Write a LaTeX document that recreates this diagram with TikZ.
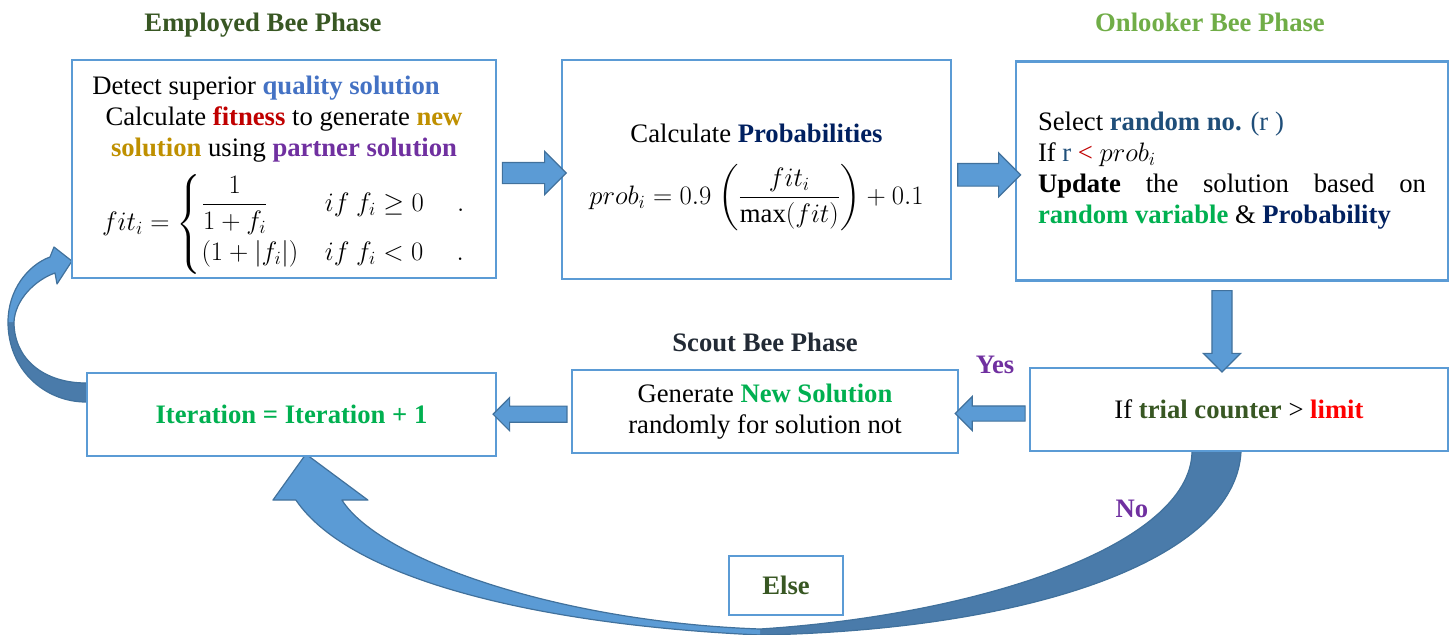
\RequirePackage{fix-cm}
\documentclass[tikz,border=0pt]{standalone}
\usepackage{amsmath}
\usepackage{fontspec}
\setmainfont{Liberation Serif}
\usetikzlibrary{calc,shapes.arrows}
\pgfdeclarelayer{background}
\pgfsetlayers{background,main}

\definecolor{boxblue}{HTML}{5B9BD5}
\definecolor{edgeblue}{HTML}{41719C}
\definecolor{ribbondark}{HTML}{4A7BAA}
\definecolor{phasegreen}{HTML}{385723}
\definecolor{onlookgreen}{HTML}{70AD47}
\definecolor{scoutgray}{HTML}{222A35}
\definecolor{qualblue}{HTML}{4472C4}
\definecolor{fitred}{HTML}{C00000}
\definecolor{newgold}{HTML}{BF9000}
\definecolor{purp}{HTML}{7030A0}
\definecolor{navy}{HTML}{002060}
\definecolor{randblue}{HTML}{1F4E79}
\definecolor{brightgreen}{HTML}{00B050}
\definecolor{limitred}{HTML}{FF0000}

\begin{document}
\begin{tikzpicture}[x=0.75pt,y=-0.75pt,
  every node/.style={font=\fontsize{20}{23.25}\selectfont},
  box/.style={draw=boxblue, line width=1.6pt, fill=white, inner sep=0pt},
  phase/.style={font=\fontsize{20}{23.25}\selectfont\bfseries},
  blockarrow/.style={single arrow, draw=edgeblue, fill=boxblue, line width=0.9pt,
    inner xsep=0pt, anchor=center},
  ribbonedge/.style={draw=edgeblue, line width=0.9pt, line join=round}]

\useasboundingbox (0,0) rectangle (1454,635);

% phase titles
\node[phase, text=phasegreen]  (hEmp) at (263,25)  {Employed Bee Phase};
\node[phase, text=onlookgreen] (hOnl) at (1210,22) {Onlooker Bee Phase};
\node[phase, text=scoutgray]   (hSco) at (765,342) {Scout Bee Phase};

% employed bee phase
\node[box, minimum width=318pt, minimum height=163.5pt] (b1) at (284,169) {};
\node[align=center, inner sep=0pt] (b1txt) at ([yshift=-4.5pt]b1.center)
 {Detect superior \textbf{\color{qualblue}quality solution}\hspace*{27pt}\\
  Calculate \textbf{\color{fitred}fitness} to generate \textbf{\color{newgold}new}\\
  \textbf{\color{newgold}solution} using \textbf{\color{purp}partner solution}\\[8pt]
  $fit_i=\begin{cases}\dfrac{1}{1+f_i} & if\ f_i\ge 0\quad\ .\\
   (1+|f_i|) & if\ f_i<0\quad\ .\end{cases}$};

% probabilities
\node[box, minimum width=291.75pt, minimum height=164.25pt] (b2) at (756.5,169.5) {};
\node[align=center, inner sep=0pt] (b2txt) at ([yshift=-6pt]b2.center)
 {Calculate \textbf{\color{navy}Probabilities}\\[15pt]
  $prob_i=0.9\ \biggl(\dfrac{fit_i}{\max(fit)}\biggr)+0.1$};

% onlooker bee phase
\node[box, minimum width=324pt, minimum height=164.25pt, text width=291pt, align=justify] (b3) at (1232,171)
 {\hyphenpenalty=10000\exhyphenpenalty=10000\tolerance=10000
  Select \textbf{\color{randblue}random no.} {\color{randblue}(r )}\\
  If {\color{randblue}r} {\color{fitred}<} $prob_i$\\
  \textbf{Update} the solution based on \textbf{\color{brightgreen}random variable} \& \textbf{\color{navy}Probability}\par};

% trial counter test
\node[box, minimum width=313.5pt, minimum height=62.25pt] (b5) at (1239,409.5)
 {If \textbf{\color{phasegreen}trial counter} > \textbf{\color{limitred}limit}};

% scout bee phase
\node[box, minimum width=289.5pt, minimum height=62.25pt, align=center] (b4) at (765,411.5)
 {Generate \textbf{\color{brightgreen}New Solution}\\randomly for solution not};

% iteration counter
\node[box, minimum width=306.75pt, minimum height=62.25pt] (b6) at (291.5,414.5)
 {\textbf{\color{brightgreen}Iteration = Iteration + 1}};

% else label box
\node[box, minimum width=85.5pt, minimum height=44.25pt] (else) at (786,585.5)
 {\textbf{\color{phasegreen}Else}};

% branch labels
\node[phase, text=purp] (yes) at (995,365) {Yes};
\node[phase, text=purp] (no)  at (1132,509) {No};

% straight block arrows
\path let \p1=([yshift=-3pt]b1.east), \p2=(b2.west) in
  node[blockarrow, minimum height={\x2-\x1}, inner ysep=7.5pt,
       single arrow head extend=8.25pt] (a1) at ({(\x1+\x2)/2},\y1) {};
\path let \p1=([yshift=-4pt]b2.east), \p2=(b3.west) in
  node[blockarrow, minimum height={\x2-\x1}, inner ysep=8pt,
       single arrow head extend=8pt] (a2) at ({(\x1+\x2)/2},\y1) {};
\path let \p1=([xshift=-7.5pt,yshift=-3pt]b3.south), \p2=(b5.north) in
  node[blockarrow, rotate=-90, minimum height={\y1-\y2}, inner ysep=7.1pt,
       single arrow head extend=6.4pt] (a3) at (\x1,{(\y1+\y2)/2}) {};
\path let \p1=([yshift=-3pt]b5.west), \p2=(b4.east) in
  node[blockarrow, rotate=180, minimum height={\x1-\x2}, inner ysep=5.25pt,
       single arrow head extend=7.1pt] (a4) at ({(\x1+\x2)/2},\y1) {};
\path let \p1=([yshift=-2pt]b4.west), \p2=(b6.east) in
  node[blockarrow, rotate=180, minimum height={\x1-\x2}, inner ysep=5.6pt,
       single arrow head extend=6.4pt] (a5) at ({(\x1+\x2)/2},\y1) {};

% ends of the curved arrows
\coordinate (lA) at ($(b6.west)+(0,-31.5)$);
\coordinate (lB) at ($(b6.west)+(0,-12.5)$);
\coordinate (lT) at ($(b1.south west)+(1,-18)$);
\coordinate (nIn)  at ($(b5.south)+(-47,0)$);
\coordinate (nOut) at ($(b5.south)+(2,0)$);
\coordinate (nTip) at ($(b6.south west)+(220,-3)$);

\begin{pgfonlayer}{background}
  % loop back: iteration to employed bee phase
  \fill[ribbondark] (lA) .. controls (45,383) and (14,360) .. (14,322)
     -- (8,322) .. controls (8,370) and (45,402) .. (lB) -- cycle;
  \fill[boxblue] (8,322) .. controls (8,290) and (28,265) .. (50,257)
     -- (54,247) -- (lT) -- (57,284) -- (55,273)
     .. controls (35,280) and (15,300) .. (14,322) -- cycle;
  \draw[ribbonedge] (lA) .. controls (45,383) and (14,360) .. (14,322)
     .. controls (15,300) and (35,280) .. (55,273) -- (57,284) -- (lT) -- (54,247) -- (50,257)
     .. controls (28,265) and (8,290) .. (8,322) .. controls (8,370) and (45,402) .. (lB);

  % no branch: trial counter back to iteration
  \fill[ribbondark] (nIn) .. controls (1190,545) and (980,615) .. (760,629)
     -- (760,635) .. controls (1030,630) and (1235,560) .. (nOut) -- cycle;
  \fill[boxblue] (nTip) -- ($(nTip)+(62,46)$) -- ($(nTip)+(36,46)$)
     .. controls (380,560) and (560,622) .. (760,629)
     -- (760,635) .. controls (540,625) and (350,580) .. ($(nTip)+(-10,46)$)
     -- ($(nTip)+(-33,46)$) -- cycle;
  \draw[ribbonedge] (nIn) .. controls (1190,545) and (980,615) .. (760,629)
     .. controls (560,622) and (380,560) .. ($(nTip)+(36,46)$)
     -- ($(nTip)+(62,46)$) -- (nTip) -- ($(nTip)+(-33,46)$) -- ($(nTip)+(-10,46)$)
     .. controls (350,580) and (540,625) .. (760,635)
     .. controls (1030,630) and (1235,560) .. (nOut);
\end{pgfonlayer}
\end{tikzpicture}
\end{document}
